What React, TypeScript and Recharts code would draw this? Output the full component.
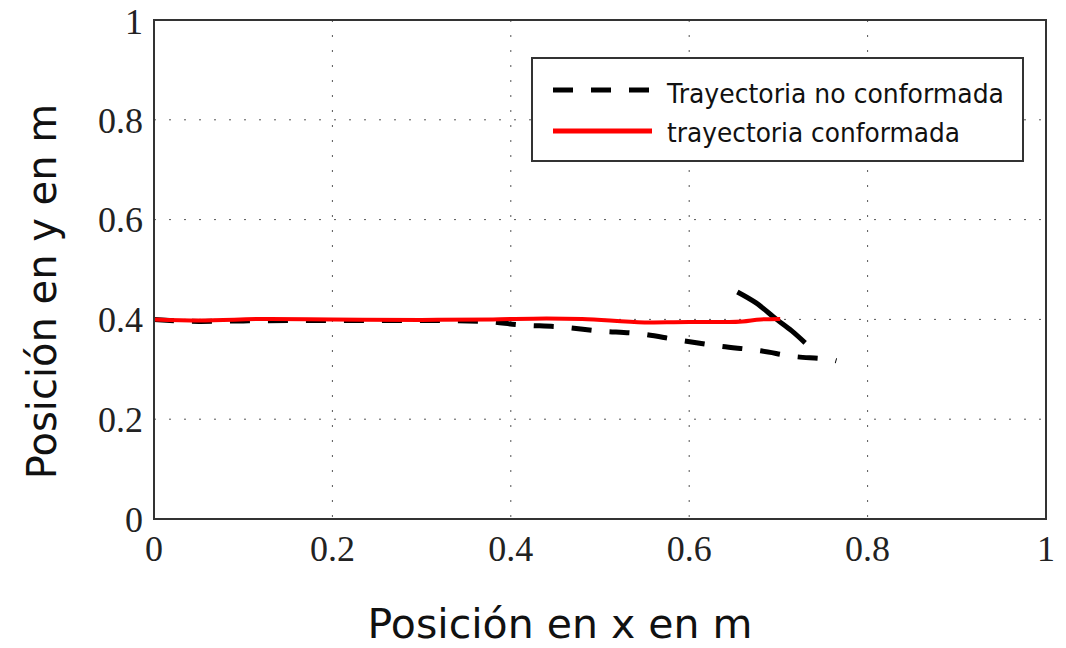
import { LineChart, Line, XAxis, YAxis, CartesianGrid, Legend, ReferenceArea } from "recharts"

// trayectoria no conformada (dashed)
const noConfX = [0, 0.05, 0.1, 0.2, 0.3, 0.37, 0.41, 0.455, 0.498, 0.545, 0.587, 0.632, 0.68, 0.721, 0.745, 0.758, 0.765]
const noConfY = [0.4, 0.396, 0.397, 0.398, 0.398, 0.396, 0.389, 0.385, 0.377, 0.371, 0.359, 0.347, 0.337, 0.325, 0.322, 0.32, 0.317]

// solid black segment near the end
const segX = [0.654, 0.675, 0.698, 0.715, 0.73]
const segY = [0.455, 0.433, 0.4, 0.377, 0.353]

// trayectoria conformada (red)
const confX = [0, 0.05, 0.13, 0.2, 0.3, 0.38, 0.44, 0.48, 0.55, 0.6, 0.645, 0.66, 0.68, 0.702]
const confY = [0.4, 0.398, 0.401, 0.4, 0.399, 0.4, 0.402, 0.401, 0.394, 0.395, 0.395, 0.396, 0.4, 0.401]

const ticks = [0, 0.2, 0.4, 0.6, 0.8, 1]
const tickLabels = ["0", "0.2", "0.4", "0.6", "0.8", "1"]

const toPoints = (xs: number[], ys: number[]) => xs.map((x, i) => ({ x, y: ys[i] }))

const noConf = toPoints(noConfX, noConfY)
const seg = toPoints(segX, segY)
const conf = toPoints(confX, confY)

const sans = "'DejaVu Sans', Verdana, sans-serif"
const serif = "'Liberation Serif', 'Times New Roman', serif"

function LegendBox() {
  return (
    <div style={{ width: 493, height: 105, border: "2px solid #333", background: "#fff", boxSizing: "border-box" }}>
      <svg width={489} height={101} style={{ overflow: "visible", display: "block" }}>
        <line x1={20} y1={31} x2={119} y2={31} stroke="#000" strokeWidth={5} strokeDasharray="20 18" />
        <line x1={20} y1={72} x2={119} y2={72} stroke="#ff0000" strokeWidth={5} />
        <text x={134} y={44} fontFamily={sans} fontSize={27} fill="#111" textLength={337} lengthAdjust="spacingAndGlyphs">
          Trayectoria no conformada
        </text>
        <text x={134} y={83} fontFamily={sans} fontSize={27} fill="#111" textLength={293} lengthAdjust="spacingAndGlyphs">
          trayectoria conformada
        </text>
      </svg>
    </div>
  )
}

export default function App() {
  return (
    <div style={{ position: "absolute", left: 0, top: 0, width: 1066, height: 648, background: "#fff" }}>
      <LineChart width={1066} height={648} margin={{ top: 20, right: 20, left: 0, bottom: 0 }}>
        <CartesianGrid stroke="#555" strokeDasharray="2 13" />
        <XAxis
          type="number"
          dataKey="x"
          domain={[0, 1]}
          ticks={ticks}
          tickFormatter={(v: number) => tickLabels[ticks.indexOf(v)] ?? String(v)}
          height={129}
          stroke="#333"
          strokeWidth={2}
          tickLine={false}
          tickSize={8}
          tickMargin={8}
          tick={{ fontFamily: serif, fontSize: 36, fill: "#222" }}
          label={{ value: "Posición en x en m", position: "center", dx: -40, dy: 40, fontFamily: sans, fontSize: 41, fill: "#111" }}
        />
        <YAxis
          type="number"
          dataKey="y"
          domain={[0, 1]}
          ticks={ticks}
          tickFormatter={(v: number) => tickLabels[ticks.indexOf(v)] ?? String(v)}
          width={154}
          stroke="#333"
          strokeWidth={2}
          tickLine={false}
          tickSize={6}
          tickMargin={5}
          tick={{ fontFamily: serif, fontSize: 36, fill: "#222" }}
          label={{ value: "Posición en y en m", position: "center", angle: -90, dx: -35, dy: 22, fontFamily: sans, fontSize: 40, fill: "#111" }}
        />
        <ReferenceArea x1={0} x2={1} y1={0} y2={1} fill="none" stroke="#333" strokeWidth={2} ifOverflow="visible" />
        <Legend
          layout="vertical"
          align="center"
          verticalAlign="middle"
          wrapperStyle={{ position: "absolute", top: 57, left: 531, width: 493 }}
          content={() => <LegendBox />}
        />
        <Line data={noConf} dataKey="y" name="Trayectoria no conformada" stroke="#000" strokeWidth={5} strokeDasharray="20 18" dot={false} isAnimationActive={false} type="monotone" />
        <Line data={seg} dataKey="y" name="segmento" legendType="none" stroke="#000" strokeWidth={5} dot={false} isAnimationActive={false} type="monotone" />
        <Line data={conf} dataKey="y" name="trayectoria conformada" stroke="#ff0000" strokeWidth={4} dot={false} isAnimationActive={false} type="monotone" />
      </LineChart>
    </div>
  )
}
